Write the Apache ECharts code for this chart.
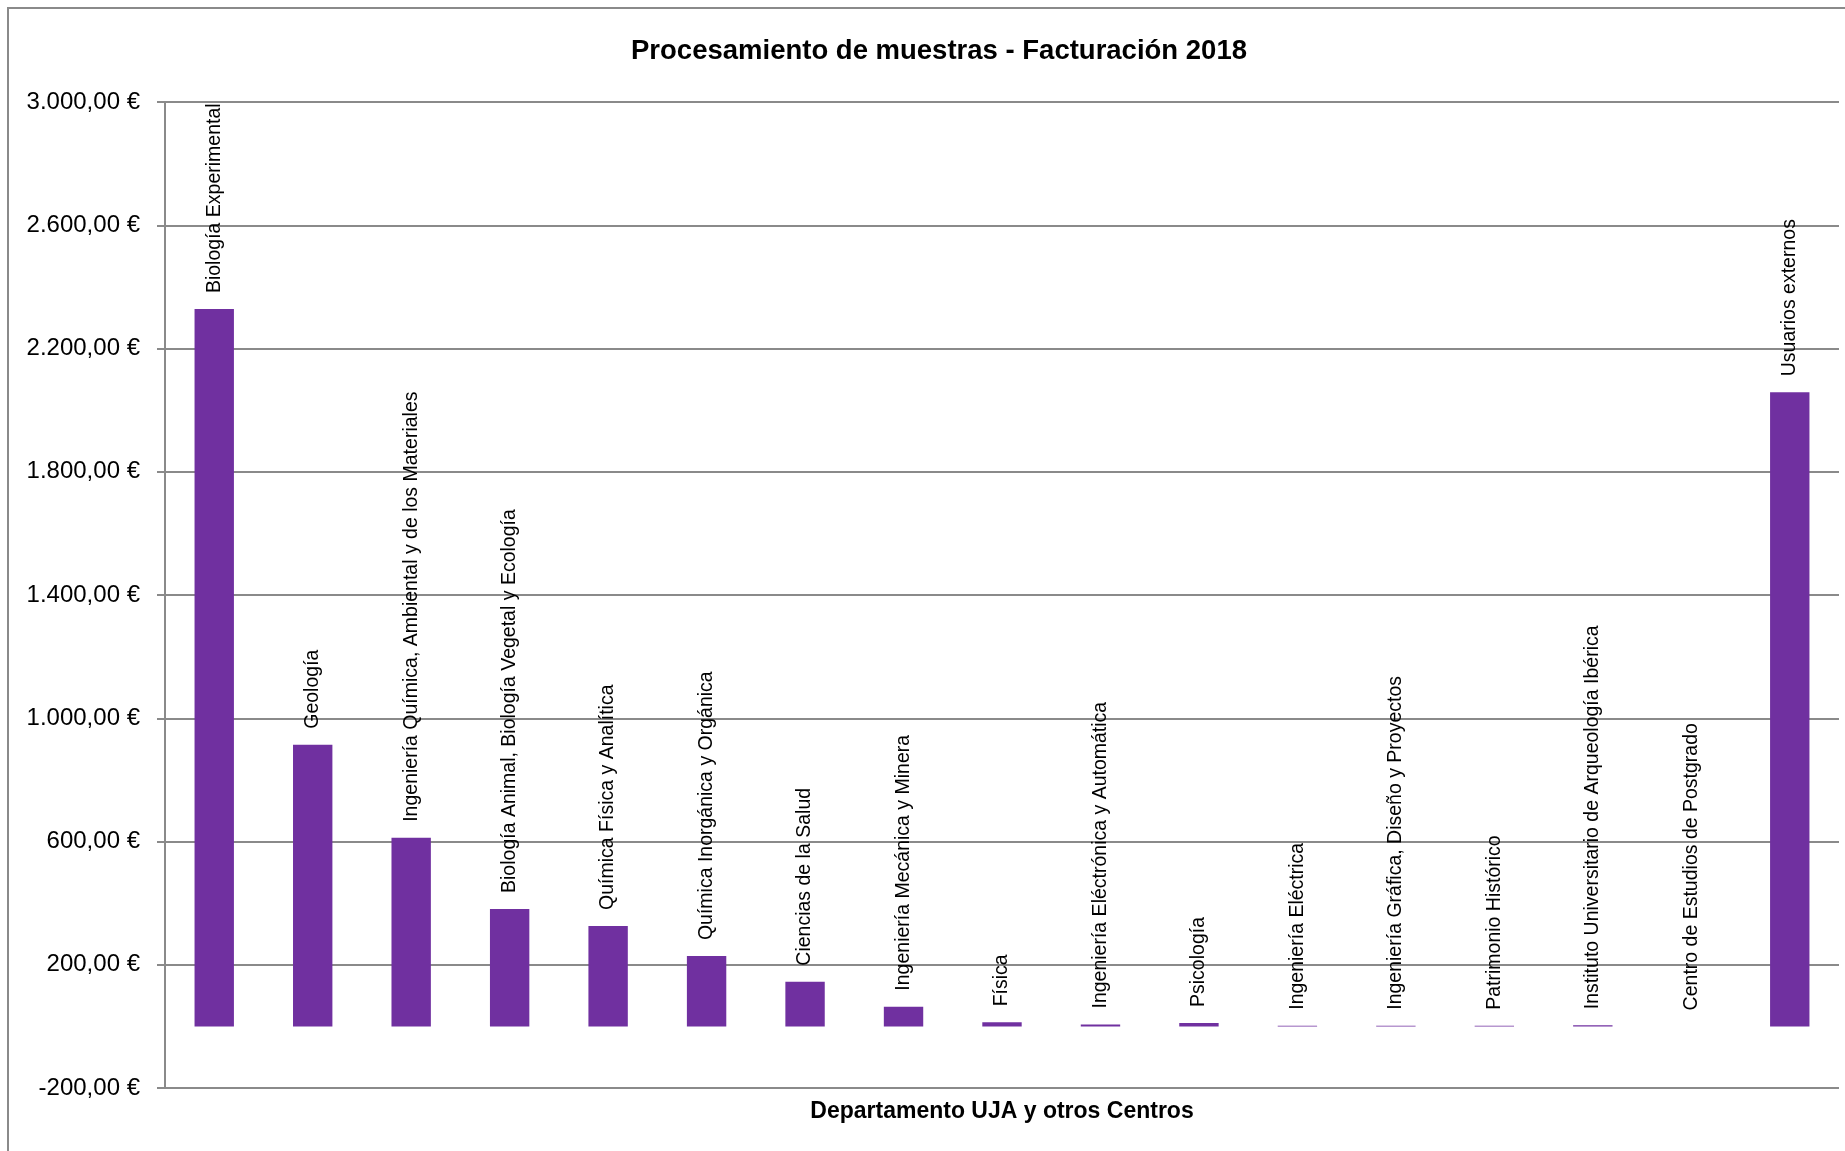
<!DOCTYPE html>
<html>
<head>
<meta charset="utf-8">
<script src="https://cdn.jsdelivr.net/npm/echarts@6/dist/echarts.min.js"></script>
<style>
html,body{margin:0;padding:0;background:#fff;}
#chart{width:1845px;height:1151px;}
</style>
</head>
<body>
<div id="chart"></div>
<script>
const titleText = 'Procesamiento de muestras - Facturación 2018';
const xAxisName = 'Departamento UJA y otros Centros';
const categories = [
  'Biología Experimental',
  'Geología',
  'Ingeniería Química, Ambiental y de los Materiales',
  'Biología Animal, Biología Vegetal y Ecología',
  'Química Física y Analítica',
  'Química Inorgánica y Orgánica',
  'Ciencias de la Salud',
  'Ingeniería Mecánica y Minera',
  'Física',
  'Ingeniería Eléctrónica y Automática',
  'Psicología',
  'Ingeniería Eléctrica',
  'Ingeniería Gráfica, Diseño y Proyectos',
  'Patrimonio Histórico',
  'Instituto Universitario de Arqueología Ibérica',
  'Centro de Estudios de Postgrado',
  'Usuarios externos'
];
const values = [2328, 914, 612, 381, 326, 228, 145, 64, 13, 6, 11, 2, 2, 2, 4, 0, 2058];
const yTicks = [-200, 200, 600, 1000, 1400, 1800, 2200, 2600, 3000];
const yMin = -200, yMax = 3000;

function fmtEuro(v) {
  const neg = v < 0;
  const a = Math.abs(v);
  const parts = a.toFixed(2).split('.');
  const intPart = parts[0].replace(/\B(?=(\d{3})+(?!\d))/g, '.');
  return (neg ? '-' : '') + intPart + ',' + parts[1] + ' €';
}

const chart = echarts.init(document.getElementById('chart'), null, {renderer: 'canvas'});
const gridColor = '#8a8a8a';
chart.setOption({
  animation: false,
  backgroundColor: '#fff',
  title: {
    text: titleText,
    left: 934,
    textAlign: 'center',
    top: 32,
    textStyle: {fontFamily: 'Liberation Sans', fontWeight: 'bold', fontSize: 27.5, color: '#000'}
  },
  graphic: [{
    type: 'rect',
    shape: {x: 8, y: 8, width: 1900, height: 1300},
    style: {fill: null, stroke: '#8a8a8a', lineWidth: 2},
    silent: true
  }],
  grid: {left: 165, right: 6, top: 102, bottom: 63, containLabel: false},
  xAxis: {
    type: 'category',
    data: categories,
    name: xAxisName,
    nameLocation: 'middle',
    nameGap: 12,
    nameTextStyle: {fontFamily: 'Liberation Sans', fontWeight: 'bold', fontSize: 23, color: '#000', verticalAlign: 'top'},
    axisLine: {show: false},
    axisTick: {show: false},
    axisLabel: {show: false},
    splitLine: {show: false}
  },
  yAxis: {
    type: 'value',
    min: yMin,
    max: yMax,
    axisLine: {show: true, lineStyle: {color: gridColor, width: 2}},
    axisTick: {show: true, length: 8, customValues: yTicks, lineStyle: {color: gridColor, width: 2}},
    axisLabel: {
      customValues: yTicks,
      margin: 25,
      fontFamily: 'Liberation Sans',
      fontSize: 24,
      color: '#000',
      formatter: function (v) { return fmtEuro(v); }
    },
    splitLine: {show: true, lineStyle: {color: gridColor, width: 2}}
  },
  series: [{
    type: 'bar',
    data: values,
    barWidth: '40%',
    itemStyle: {color: '#7030A0'},
    label: {
      show: true,
      position: 'top',
      rotate: 90,
      align: 'left',
      verticalAlign: 'middle',
      distance: 16,
      formatter: '{b}',
      fontFamily: 'Liberation Sans',
      fontSize: 19.5,
      color: '#000'
    }
  }]
});
</script>
</body>
</html>
